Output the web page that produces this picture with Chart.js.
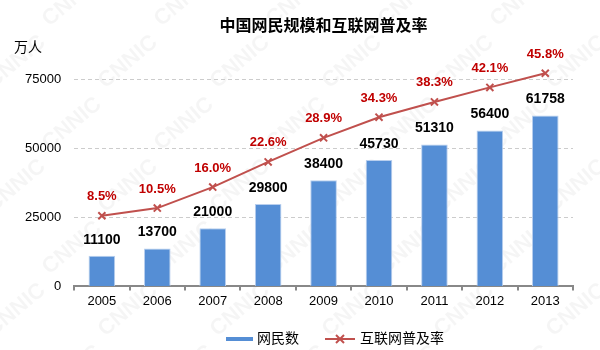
<!DOCTYPE html>
<html>
<head>
<meta charset="utf-8">
<script src="https://cdn.jsdelivr.net/npm/chart.js@4"></script>
<style>
  html, body { margin: 0; padding: 0; background: #fff; }
</style>
</head>
<body>
<canvas id="netChart" width="600" height="350"></canvas>
<script>
// 年份与数据
const years = ['2005', '2006', '2007', '2008', '2009', '2010', '2011', '2012', '2013'];
const netUsers = [11100, 13700, 21000, 29800, 38400, 45730, 51310, 56400, 61758]; // 万人
const penetration = [8.5, 10.5, 16.0, 22.6, 28.9, 34.3, 38.3, 42.1, 45.8];     // %
const yTicks = [0, 25000, 50000, 75000];

const FONT = '"Liberation Sans", "Noto Sans CJK SC", sans-serif';
const BAR_COLOR = '#558ed5';
const LINE_COLOR = '#c0504d';
const LABEL_RED = '#c00000';

// 背景水印、标题、单位、数值标签和图例
const decorations = {
    id: 'decorations',
    beforeDraw(chart) {
        const c = chart.ctx;
        c.save();
        c.fillStyle = 'rgba(0,0,0,0.04)';
        c.font = 'bold 22px ' + FONT;
        c.textAlign = 'center';
        c.textBaseline = 'middle';
        let row = 0;
        for (let y = 0; y < 400; y += 62, row++) {
            for (let x = -40; x < 660; x += 112) {
                c.save();
                c.translate(x + (row % 2) * 56, y);
                c.rotate(-0.7);
                c.fillText('CNNIC', 0, 0);
                c.restore();
            }
        }
        c.restore();
    },
    afterDatasetsDraw(chart) {
        const c = chart.ctx;
        const area = chart.chartArea;
        c.save();

        // 标题
        c.fillStyle = '#000';
        c.font = 'bold 16px ' + FONT;
        c.textAlign = 'center';
        c.textBaseline = 'middle';
        c.fillText('中国网民规模和互联网普及率', (area.left + area.right) / 2, 27);

        // 单位
        c.font = '14px ' + FONT;
        c.textAlign = 'left';
        c.fillText('万人', 14, 48);

        // 柱子数值
        c.font = 'bold 14px ' + FONT;
        c.textAlign = 'center';
        chart.getDatasetMeta(1).data.forEach((bar, i) => {
            c.fillStyle = '#000';
            c.fillText(String(netUsers[i]), bar.x, bar.y - 16);
        });

        // 普及率数值
        c.font = 'bold 13px ' + FONT;
        chart.getDatasetMeta(0).data.forEach((pt, i) => {
            c.fillStyle = LABEL_RED;
            c.fillText(penetration[i].toFixed(1) + '%', pt.x, pt.y - 19);
        });

        // 图例
        const ly = 339;
        c.lineWidth = 4;
        c.strokeStyle = BAR_COLOR;
        c.beginPath(); c.moveTo(226, ly); c.lineTo(253, ly); c.stroke();
        c.fillStyle = '#000';
        c.font = '14px ' + FONT;
        c.textAlign = 'left';
        c.fillText('网民数', 257, ly);

        c.lineWidth = 2;
        c.strokeStyle = LINE_COLOR;
        c.beginPath(); c.moveTo(325, ly); c.lineTo(355, ly); c.stroke();
        c.beginPath();
        c.moveTo(336, ly - 4); c.lineTo(344, ly + 4);
        c.moveTo(344, ly - 4); c.lineTo(336, ly + 4);
        c.stroke();
        c.fillText('互联网普及率', 360, ly);

        c.restore();
    }
};

const ctx = document.getElementById('netChart').getContext('2d');

new Chart(ctx, {
    data: {
        labels: years,
        datasets: [
            {
                type: 'line',
                label: '互联网普及率',
                data: penetration,
                yAxisID: 'y1',
                borderColor: LINE_COLOR,
                borderWidth: 2,
                pointStyle: 'crossRot',
                pointRadius: 5,
                pointBorderWidth: 2,
                pointBorderColor: LINE_COLOR,
                tension: 0,
                clip: false,
                order: 0
            },
            {
                type: 'bar',
                label: '网民数',
                data: netUsers,
                yAxisID: 'y',
                backgroundColor: BAR_COLOR,
                borderColor: '#b9cfee',
                borderWidth: 1,
                barPercentage: 0.48,
                categoryPercentage: 1,
                order: 1
            }
        ]
    },
    options: {
        responsive: false,
        animation: false,
        layout: { padding: { top: 79, left: 12, right: 27, bottom: 38 } },
        plugins: {
            legend: { display: false },
            title: { display: false },
            tooltip: { enabled: false }
        },
        scales: {
            x: {
                offset: true,
                border: { display: true, color: '#888', width: 2 },
                grid: {
                    offset: true,
                    drawOnChartArea: false,
                    drawTicks: true,
                    tickLength: 4,
                    color: '#888',
                    lineWidth: 2
                },
                ticks: { color: '#000', font: { family: FONT, size: 13 }, padding: 3 }
            },
            y: {
                min: 0,
                max: 75000,
                afterBuildTicks(scale) {
                    scale.ticks = yTicks.map(v => ({ value: v }));
                },
                border: { display: false, dash: [4, 3] },
                grid: {
                    color: (c) => c.tick && c.tick.value === 0 ? 'rgba(0,0,0,0)' : '#cccccc',
                    drawTicks: false,
                    lineWidth: 1
                },
                ticks: {
                    color: '#000',
                    font: { family: FONT, size: 13 },
                    padding: 13,
                    callback: (v) => String(v)
                }
            },
            y1: {
                display: false,
                min: -10,
                max: 44.3
            }
        }
    },
    plugins: [decorations]
});
</script>
</body>
</html>
